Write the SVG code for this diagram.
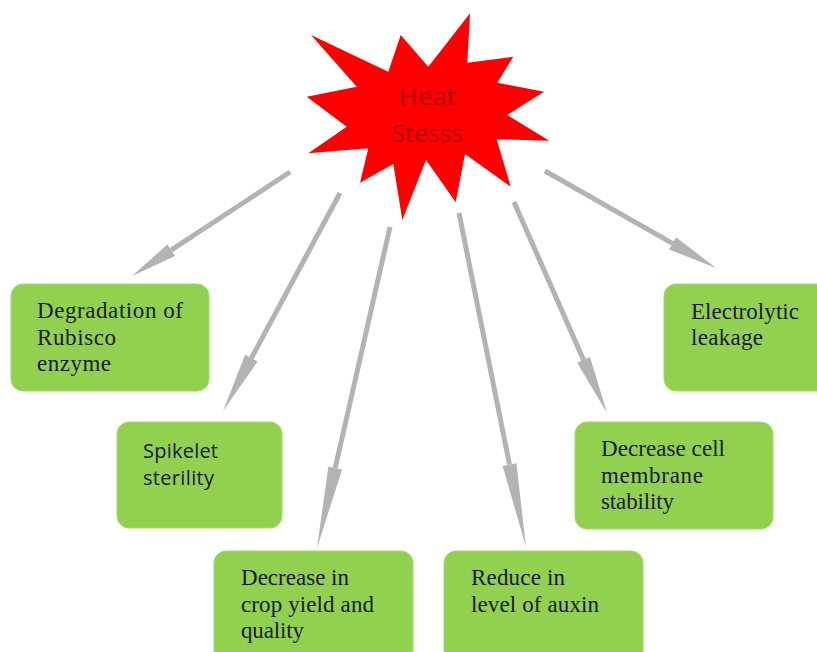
<svg xmlns="http://www.w3.org/2000/svg" width="817" height="652" viewBox="0 0 817 652">
<style>
.box{fill:#92d050;stroke:#a3d86c;stroke-width:1}
.serif{font-family:"Liberation Serif","Times New Roman",serif;font-size:23px;fill:#1a1a1a}
.sans{font-family:"Open Sans","Liberation Sans",sans-serif;font-size:20px;fill:#1a1a1a}
.star-text{font-family:"Open Sans","Liberation Sans",sans-serif;font-size:24px;fill:#b40000;text-anchor:middle}
.shaft{stroke:#b3b3b3;stroke-width:5;fill:none;stroke-linecap:butt}
.head{fill:#b3b3b3}
</style>
<rect width="817" height="652" fill="#ffffff"/>
<g id="connectors">
  <line class="shaft" x1="290" y1="172" x2="171.2" y2="250.2"/>
  <polygon class="head" points="167.4,244.4 132,276 175.1,256.1"/>
  <line class="shaft" x1="340" y1="193" x2="251.4" y2="358.1"/>
  <polygon class="head" points="245.2,354.8 223,411 257.6,361.4"/>
  <line class="shaft" x1="390" y1="227" x2="335.2" y2="468"/>
  <polygon class="head" points="328.4,466.5 317,548 342,469.6"/>
  <line class="shaft" x1="459" y1="213" x2="509.5" y2="464.6"/>
  <polygon class="head" points="502.6,466 526,547 516.4,463.2"/>
  <line class="shaft" x1="514" y1="202" x2="583.6" y2="359.9"/>
  <polygon class="head" points="577.2,362.7 607,413 590,357.1"/>
  <line class="shaft" x1="545" y1="171" x2="672.5" y2="243.3"/>
  <polygon class="head" points="669,249.4 716,268 676,237.2"/>
</g>
<g id="heat-stress">
  <polygon fill="#ff0000" points="311,35 388.3,71.7 400.7,35 428.3,66.7 470,13.3 467.3,62.7 513.3,56.7 497.3,82.7 544,91.7 507.3,115 549.3,140.7 496.7,139.3 510.7,186.7 465,154 455.7,202.3 426,160 402.3,220 393.3,164 360,182.7 368.3,148.3 308.3,153.3 346.7,126.7 306.7,96.7 356.7,86.7"/>
  <text class="star-text" x="427.5" y="105" textLength="57" lengthAdjust="spacingAndGlyphs">Heat</text>
  <text class="star-text" x="427.5" y="142" textLength="72" lengthAdjust="spacingAndGlyphs">Stesss</text>
</g>
<g id="rubisco">
  <rect class="box" x="11" y="284" width="198" height="107" rx="12"/>
  <text class="serif" x="37" y="318" textLength="146" lengthAdjust="spacing">Degradation of</text>
  <text class="serif" x="37" y="345" textLength="79" lengthAdjust="spacing">Rubisco</text>
  <text class="serif" x="37" y="371" textLength="74" lengthAdjust="spacing">enzyme</text>
</g>
<g id="spikelet">
  <rect class="box" x="117" y="422" width="165" height="106" rx="12"/>
  <text class="sans" x="143" y="458" textLength="75" lengthAdjust="spacing">Spikelet</text>
  <text class="sans" x="143" y="485" textLength="71" lengthAdjust="spacing">sterility</text>
</g>
<g id="crop-yield">
  <rect class="box" x="214" y="551" width="199" height="115" rx="12"/>
  <text class="serif" x="241" y="585" textLength="108" lengthAdjust="spacing">Decrease in</text>
  <text class="serif" x="241" y="612" textLength="133" lengthAdjust="spacing">crop yield and</text>
  <text class="serif" x="241" y="638" textLength="63" lengthAdjust="spacing">quality</text>
</g>
<g id="auxin">
  <rect class="box" x="444" y="551" width="199" height="115" rx="12"/>
  <text class="serif" x="471" y="585" textLength="94" lengthAdjust="spacing">Reduce in</text>
  <text class="serif" x="471" y="612" textLength="128" lengthAdjust="spacing">level of auxin</text>
</g>
<g id="membrane">
  <rect class="box" x="575" y="422" width="198" height="107" rx="12"/>
  <text class="serif" x="601" y="456" textLength="124" lengthAdjust="spacing">Decrease cell</text>
  <text class="serif" x="601" y="483" textLength="102" lengthAdjust="spacing">membrane</text>
  <text class="serif" x="601" y="509" textLength="73" lengthAdjust="spacing">stability</text>
</g>
<g id="electrolytic">
  <rect class="box" x="664" y="284" width="170" height="107" rx="12"/>
  <text class="serif" x="691" y="319" textLength="108" lengthAdjust="spacing">Electrolytic</text>
  <text class="serif" x="691" y="345" textLength="72" lengthAdjust="spacing">leakage</text>
</g>
</svg>
